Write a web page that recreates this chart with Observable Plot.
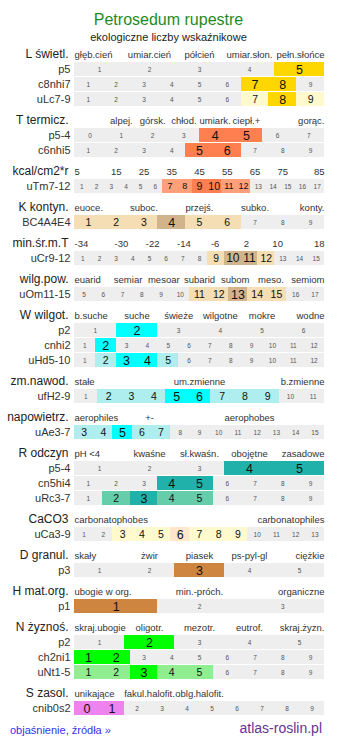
<!DOCTYPE html>
<html><head><meta charset="utf-8">
<script src="https://cdn.jsdelivr.net/npm/d3@7"></script>
<script src="https://cdn.jsdelivr.net/npm/@observablehq/plot@0.6"></script>
<style>
body{margin:0;background:#fff;font-family:"Liberation Sans",Arial,sans-serif;width:337px;}
#title{height:30px;box-sizing:border-box;padding-top:10px;line-height:20px;font-size:16px;color:#1f8a1f;text-align:center;}
#sub{height:14px;line-height:14px;font-size:11px;color:#222;text-align:center;}
#chart svg{display:block}
#foot{display:flex;justify-content:space-between;align-items:center;height:18px;padding:0 15px 0 10px;}
#foot a{text-decoration:none}
#expl{font-size:11px;color:#3333ee;}
#site{font-size:14px;color:#663399;position:relative;top:-2px;}
</style></head><body>
<div id="title">Petrosedum rupestre</div>
<div id="sub">ekologiczne liczby wskaźnikowe</div>
<div id="chart"></div>
<div id="foot"><span id="expl">objaśnienie, źródła »</span><span id="site">atlas-roslin.pl</span></div>
<script>
// ---- data ----
const sectionNames = ["L świetl.","T termicz.","kcal/cm2*r","K kontyn.","min.śr.m.T","wilg.pow.","W wilgot.","zm.nawod.","napowietrz.","R odczyn","CaCO3","D granul.","H mat.org.","N żyznoś.","S zasol."];
const sectionHeaders = [
  ["głęb.cień","umiar.cień","półcień","umiar.słon.","pełn.słońce"],
  ["","alpej.","górsk.","chłod.","umiark.","ciepł.+","","gorąc."],
  ["5","15","25","35","45","55","65","75","85"],
  ["euoce.","","suboc.","","przejś.","","subko.","","konty."],
  ["-34","-30","-22","-14","-6","2","10","18"],
  ["euarid","semiar","mesoar","subarid","subom","meso.","semiom"],
  ["b.suche","suche","świeże","wilgotne","mokre","wodne"],
  ["stałe","um.zmienne","b.zmienne"],
  ["aerophiles","+-","","aerophobes",""],
  ["pH <4","kwaśne","sł.kwaśn.","obojętne","zasadowe"],
  ["carbonatophobes","carbonatophiles"],
  ["skały","żwir","piasek","ps-pyl-gl","ciężkie"],
  ["ubogie w org.","min.-próch.","organiczne"],
  ["skraj.ubogie","oligotr.","mezotr.","eutrof.","skraj.żyzn."],
  ["unikające","fakul.halofit.","oblg.halofit.","",""]
];
const rowLabels = [
  ["p5","c8nhi7","uLc7-9"],["p5-4","c6nhi5"],["uTm7-12"],["BC4A4E4"],["uCr9-12"],["uOm11-15"],
  ["p2","cnhi2","uHd5-10"],["ufH2-9"],["uAe3-7"],["p5-4","cn5hi4","uRc3-7"],["uCa3-9"],["p3"],["p1"],
  ["p2","ch2ni1","uNt1-5"],["cnib0s2"]
];
const rowRanges = [
  [[1,5],[1,9],[1,9]],[[0,7],[1,9]],[[1,17]],[[1,9]],[[1,15]],[[5,17]],
  [[1,6],[1,12],[1,12]],[[1,11]],[[3,15]],[[1,5],[1,9],[1,9]],[[1,13]],[[1,5]],[[1,3]],
  [[1,5],[1,9],[1,9]],[[0,9]]
];
const strongCells = [
  [[5],[7,8],[8]],[[4,5],[5,6]],[[9,10]],[[4]],[[10,11]],[[13]],
  [[2],[2],[3,4]],[[5,6]],[[5]],[[4,5],[4,5],[3]],[[6]],[[3]],[[1]],
  [[2],[1,2],[3]],[[0,1]]
];
const lightCells = [
  [[],[],[7,9]],[[],[]],[[7,8,11,12]],[[1,2,3,5,6]],[[9,12]],[[11,12,14,15]],
  [[],[],[2,5]],[[2,3,4,7,8,9]],[[3,4,6,7]],[[],[],[2,4,5]],[[3,4,5,7,8,9]],[[]],[[]],
  [[],[],[1,2,4,5]],[[]]
];
// ---- styles ----
const strongColors = ["#ffd700","#ff7f50","#ff7f50","#d2b48c","#d2b48c","#d2b48c","#00ffff","#00ffff","#00ffff","#20b2aa","#ffe6cc","#cd853f","#cd853f","#00ff00","#ee82ee"];
const lightColors  = ["#fffacd","#ffa07a","#ffa07a","#f5deb3","#f5deb3","#f5deb3","#afeeee","#afeeee","#afeeee","#66cdaa","#fffacd","#fffacd","#fffacd","#90ee90","#fffacd"];
const baseColor = "#eeeeee";
const ROW = 15, CELL_H = 14, GAP = 21, TOP = 18, SPAN = 250;

const cells = [], headers = [], secLabels = [], rLabels = [];
let y = TOP;
sectionNames.forEach((name, s) => {
  const hy = y - 8;
  secLabels.push({name, y: hy});
  const hs = sectionHeaders[s], hn = hs.length;
  hs.forEach((t, i) => {
    if (!t) return;
    const pos = i === 0 ? "start" : i === hn - 1 ? "end" : "middle";
    headers.push({t, y: hy, pos, x: pos === "start" ? 0 : pos === "end" ? 1 : (i + 0.5) / hn});
  });
  rowLabels[s].forEach((lab, r) => {
    const [lo, hi] = rowRanges[s][r];
    const n = hi - lo + 1, cw = SPAN / n;
    rLabels.push({lab, y: y + CELL_H / 2});
    for (let v = lo; v <= hi; v++) {
      const level = strongCells[s][r].includes(v) ? 2 : lightCells[s][r].includes(v) ? 1 : 0;
      cells.push({
        v, level,
        x1: (v - lo) / n, x2: (v - lo + 1) / n, y1: y, y2: y + CELL_H,
        fill: level === 2 ? strongColors[s] : level === 1 ? lightColors[s] : baseColor,
        size: level === 2 ? Math.min(12.5, cw * 0.72) : level === 1 ? Math.min(10.5, cw * 0.62) : 6.5
      });
    }
    y += ROW;
  });
  y += GAP;
});
const H = y - GAP + 5;

const cx = d => (d.x1 + d.x2) / 2, cy = d => (d.y1 + d.y2) / 2;
const chart = Plot.plot({
  width: 337, height: H,
  marginLeft: 74, marginRight: 13, marginTop: 0, marginBottom: 0,
  x: {domain: [0, 1], axis: null},
  y: {domain: [0, H], range: [0, H], axis: null},
  color: {type: "identity"},
  style: {fontFamily: '"Liberation Sans", Arial, sans-serif', background: "white", overflow: "visible"},
  marks: [
    Plot.rect(cells, {x1: "x1", x2: "x2", y1: "y1", y2: "y2", fill: "fill", shapeRendering: "crispEdges"}),
    Plot.text(cells.filter(d => d.level === 0), {x: cx, y: cy, text: d => String(d.v), fontSize: 6.5, fill: "#555"}),
    Plot.text(cells.filter(d => d.level > 0), {x: cx, y: cy, text: d => String(d.v), fontSize: d => d.size, fill: "#111"}),
    Plot.text(headers.filter(d => d.pos === "start"), {x: "x", y: "y", text: "t", textAnchor: "start", fontSize: 9.5, fill: "#333"}),
    Plot.text(headers.filter(d => d.pos === "middle"), {x: "x", y: "y", text: "t", textAnchor: "middle", fontSize: 9.5, fill: "#333"}),
    Plot.text(headers.filter(d => d.pos === "end"), {x: "x", y: "y", text: "t", textAnchor: "end", fontSize: 9.5, fill: "#333"}),
    Plot.text(secLabels, {x: () => 0, y: "y", text: "name", textAnchor: "end", dx: -6, fontSize: 12, fill: "#222"}),
    Plot.text(rLabels, {x: () => 0, y: "y", text: "lab", textAnchor: "end", dx: -4, fontSize: 11, fill: "#333"})
  ]
});
document.getElementById("chart").appendChild(chart);
</script>
</body></html>
